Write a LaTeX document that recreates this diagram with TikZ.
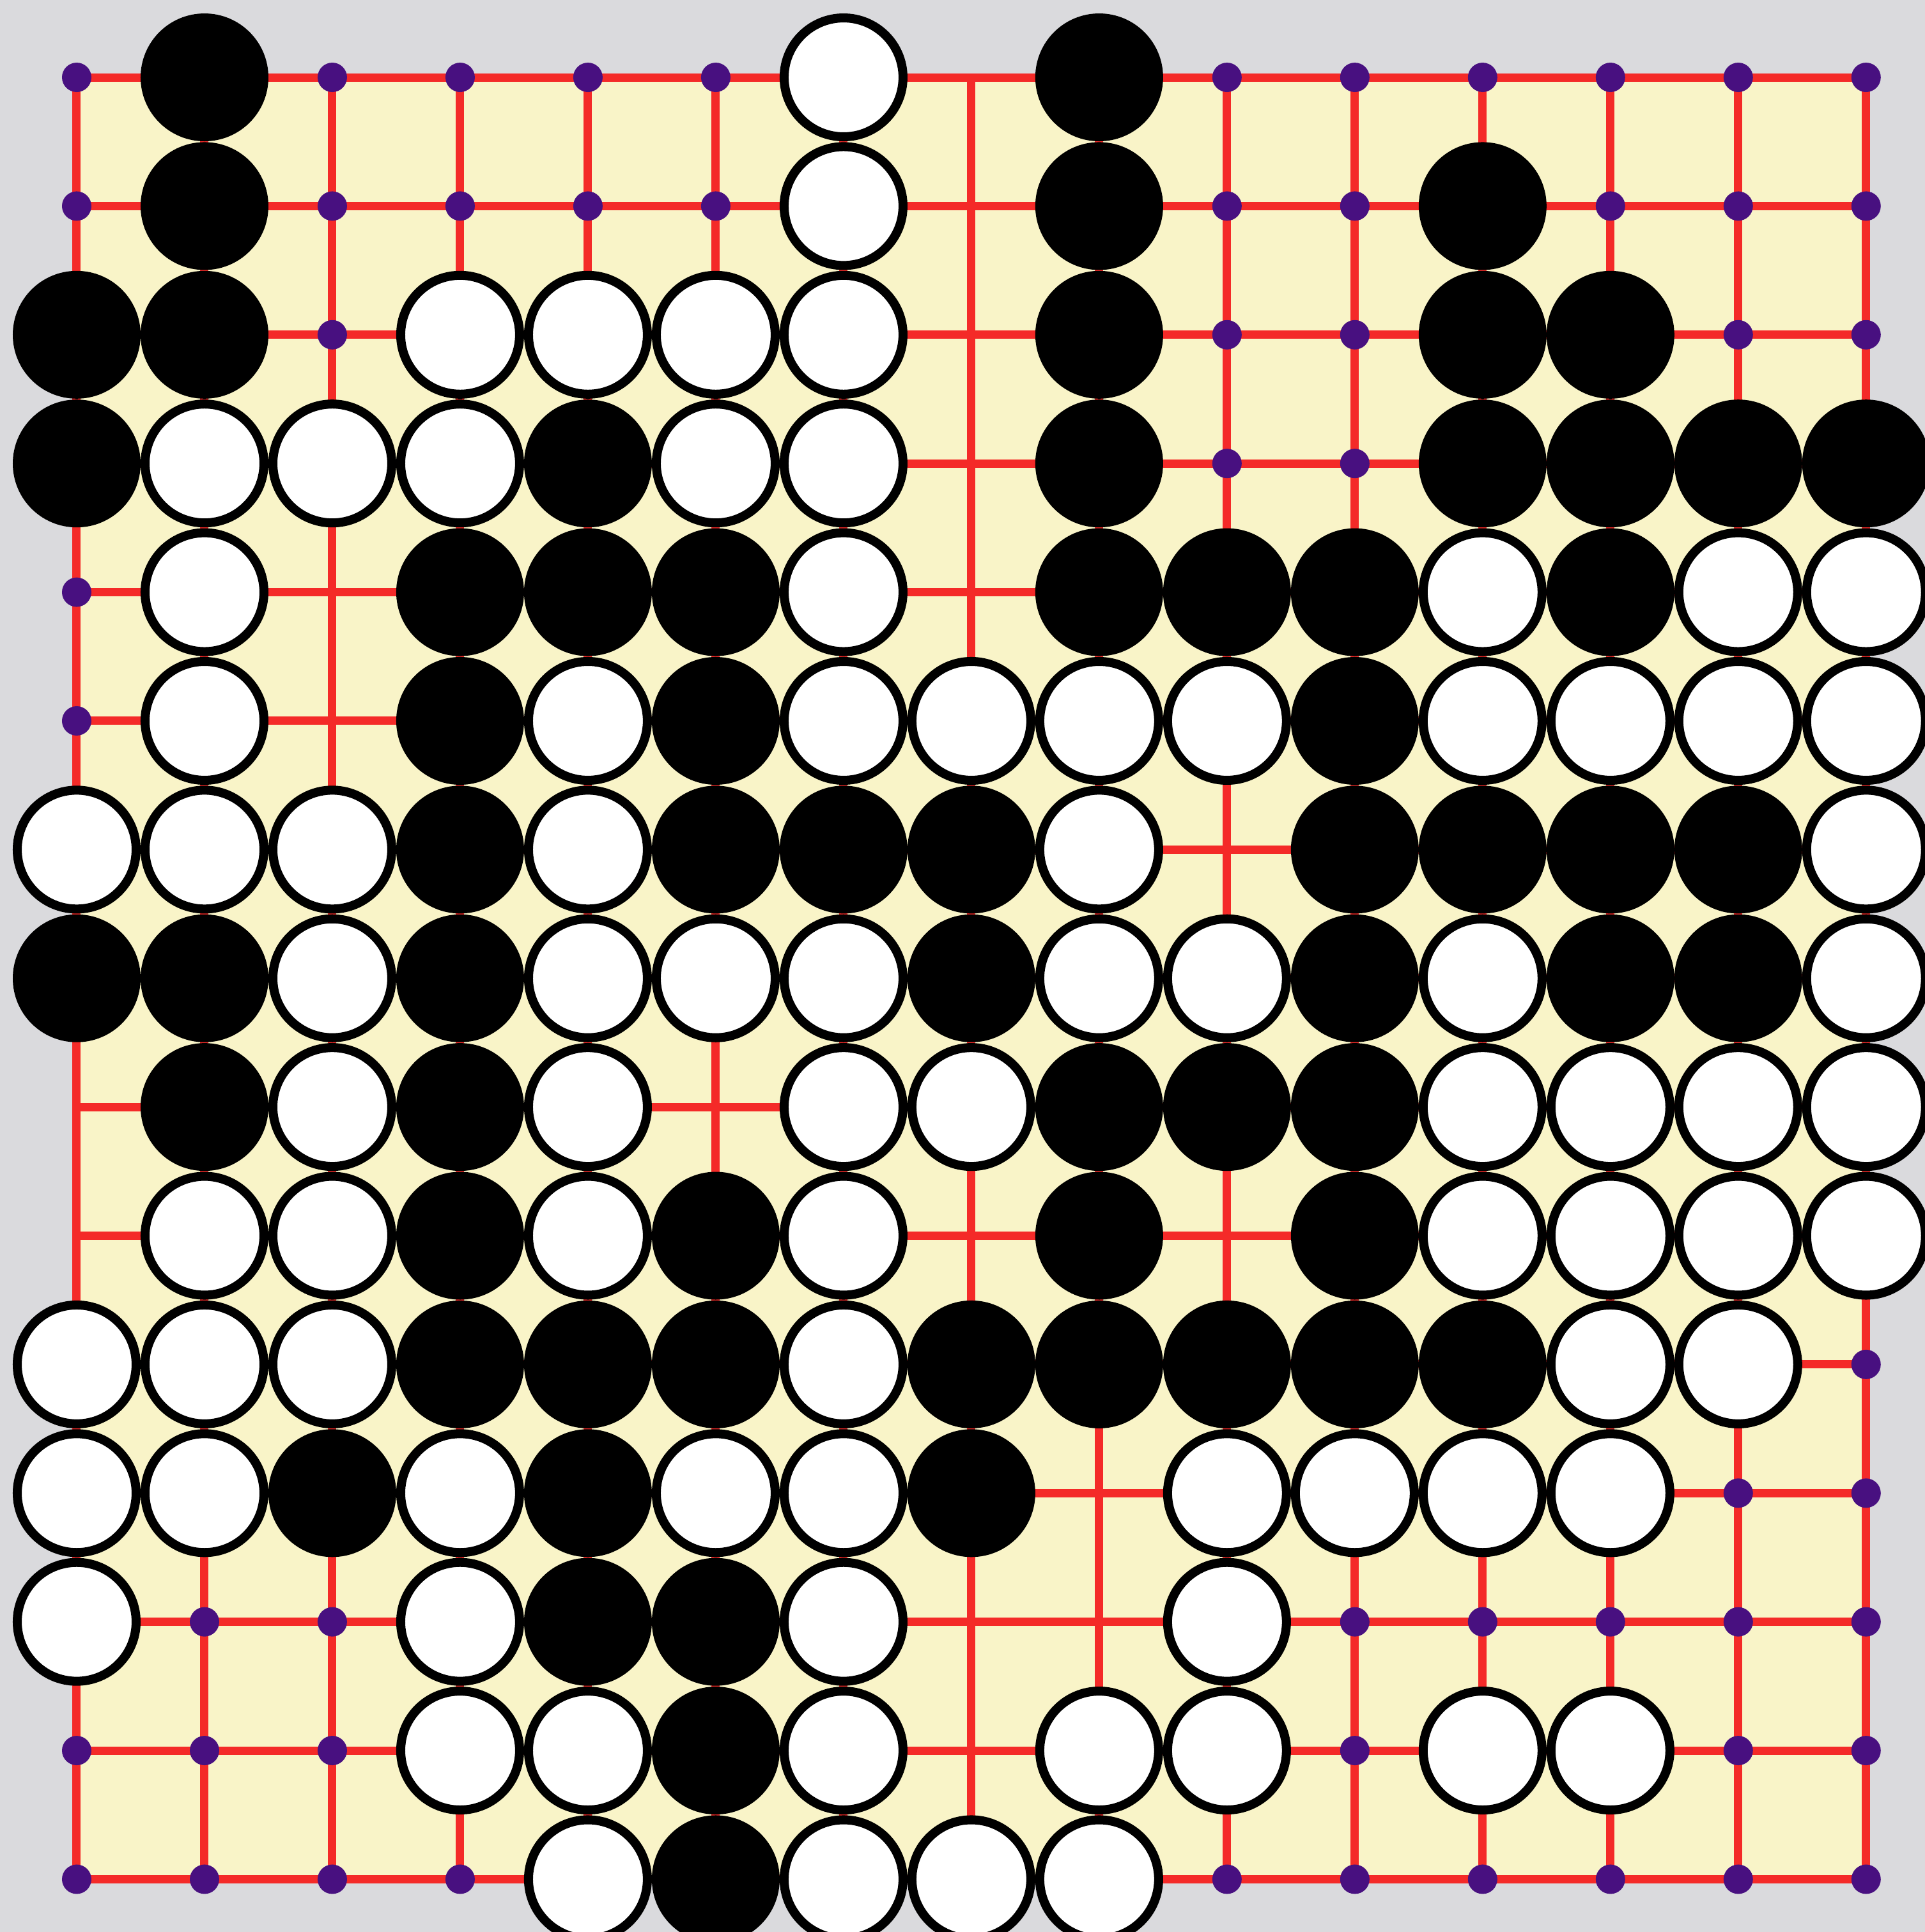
\documentclass[tikz,border=0pt]{standalone}
\usepackage{tikz}
\definecolor{boardgray}{RGB}{218,218,221}
\definecolor{boardcream}{RGB}{249,244,200}
\definecolor{gridred}{RGB}{244,42,40}
\definecolor{pointpurple}{RGB}{72,16,128}
\tikzset{
    gridline/.style={draw=gridred, line width=1.85pt},
    emptypt/.style={circle, fill=pointpurple, inner sep=0pt, minimum size=0.23cm},
    blackstone/.style={circle, fill=black, inner sep=0pt, minimum size=1.0cm},
    whitestone/.style={circle, draw=black, fill=white, line width=2pt, inner sep=0pt, minimum size=0.93cm}
}

\begin{document}
\begin{tikzpicture}[x=1cm, y=-1.007cm]
    % Paper round the board
    \fill[boardgray] (-0.6,-0.601) rectangle (14.46,14.41);
    \useasboundingbox (-0.6,-0.601) rectangle (14.46,14.41);

    % Board and grid
    \fill[boardcream] (0,0) rectangle (14,14);
    \foreach \i in {0,...,14} {
        \draw[gridline] (\i,0) -- (\i,14);
        \draw[gridline] (0,\i) -- (14,\i);
    }

    % Marked empty points
    \foreach \c/\r in {0/0,2/0,3/0,4/0,5/0,9/0,10/0,11/0,12/0,13/0,14/0,
        0/1,2/1,3/1,4/1,5/1,9/1,10/1,12/1,13/1,14/1,
        2/2,9/2,10/2,13/2,14/2, 9/3,10/3, 0/4, 0/5,
        14/10, 13/11,14/11,
        1/12,2/12,10/12,11/12,12/12,13/12,14/12,
        0/13,1/13,2/13,10/13,13/13,14/13,
        0/14,1/14,2/14,3/14,9/14,10/14,11/14,12/14,13/14,14/14}
        \node[emptypt] (p-\c-\r) at (\c,\r) {};

    % Black stones
    \foreach \c/\r in {1/0,8/0, 1/1,8/1,11/1, 0/2,1/2,8/2,11/2,12/2,
        0/3,4/3,8/3,11/3,12/3,13/3,14/3,
        3/4,4/4,5/4,8/4,9/4,10/4,12/4, 3/5,5/5,10/5,
        3/6,5/6,6/6,7/6,10/6,11/6,12/6,13/6,
        0/7,1/7,3/7,7/7,10/7,12/7,13/7,
        1/8,3/8,8/8,9/8,10/8, 3/9,5/9,8/9,10/9,
        3/10,4/10,5/10,7/10,8/10,9/10,10/10,11/10,
        2/11,4/11,7/11, 4/12,5/12, 5/13, 5/14}
        \node[blackstone] (b-\c-\r) at (\c,\r) {};

    % White stones
    \foreach \c/\r in {6/0, 6/1, 3/2,4/2,5/2,6/2, 1/3,2/3,3/3,5/3,6/3,
        1/4,6/4,11/4,13/4,14/4,
        1/5,4/5,6/5,7/5,8/5,9/5,11/5,12/5,13/5,14/5,
        0/6,1/6,2/6,4/6,8/6,14/6,
        2/7,4/7,5/7,6/7,8/7,9/7,11/7,14/7,
        2/8,4/8,6/8,7/8,11/8,12/8,13/8,14/8,
        1/9,2/9,4/9,6/9,11/9,12/9,13/9,14/9,
        0/10,1/10,2/10,6/10,12/10,13/10,
        0/11,1/11,3/11,5/11,6/11,9/11,10/11,11/11,12/11,
        0/12,3/12,6/12,9/12,
        3/13,4/13,6/13,8/13,9/13,11/13,12/13,
        4/14,6/14,7/14,8/14}
        \node[whitestone] (w-\c-\r) at (\c,\r) {};
\end{tikzpicture}
\end{document}
